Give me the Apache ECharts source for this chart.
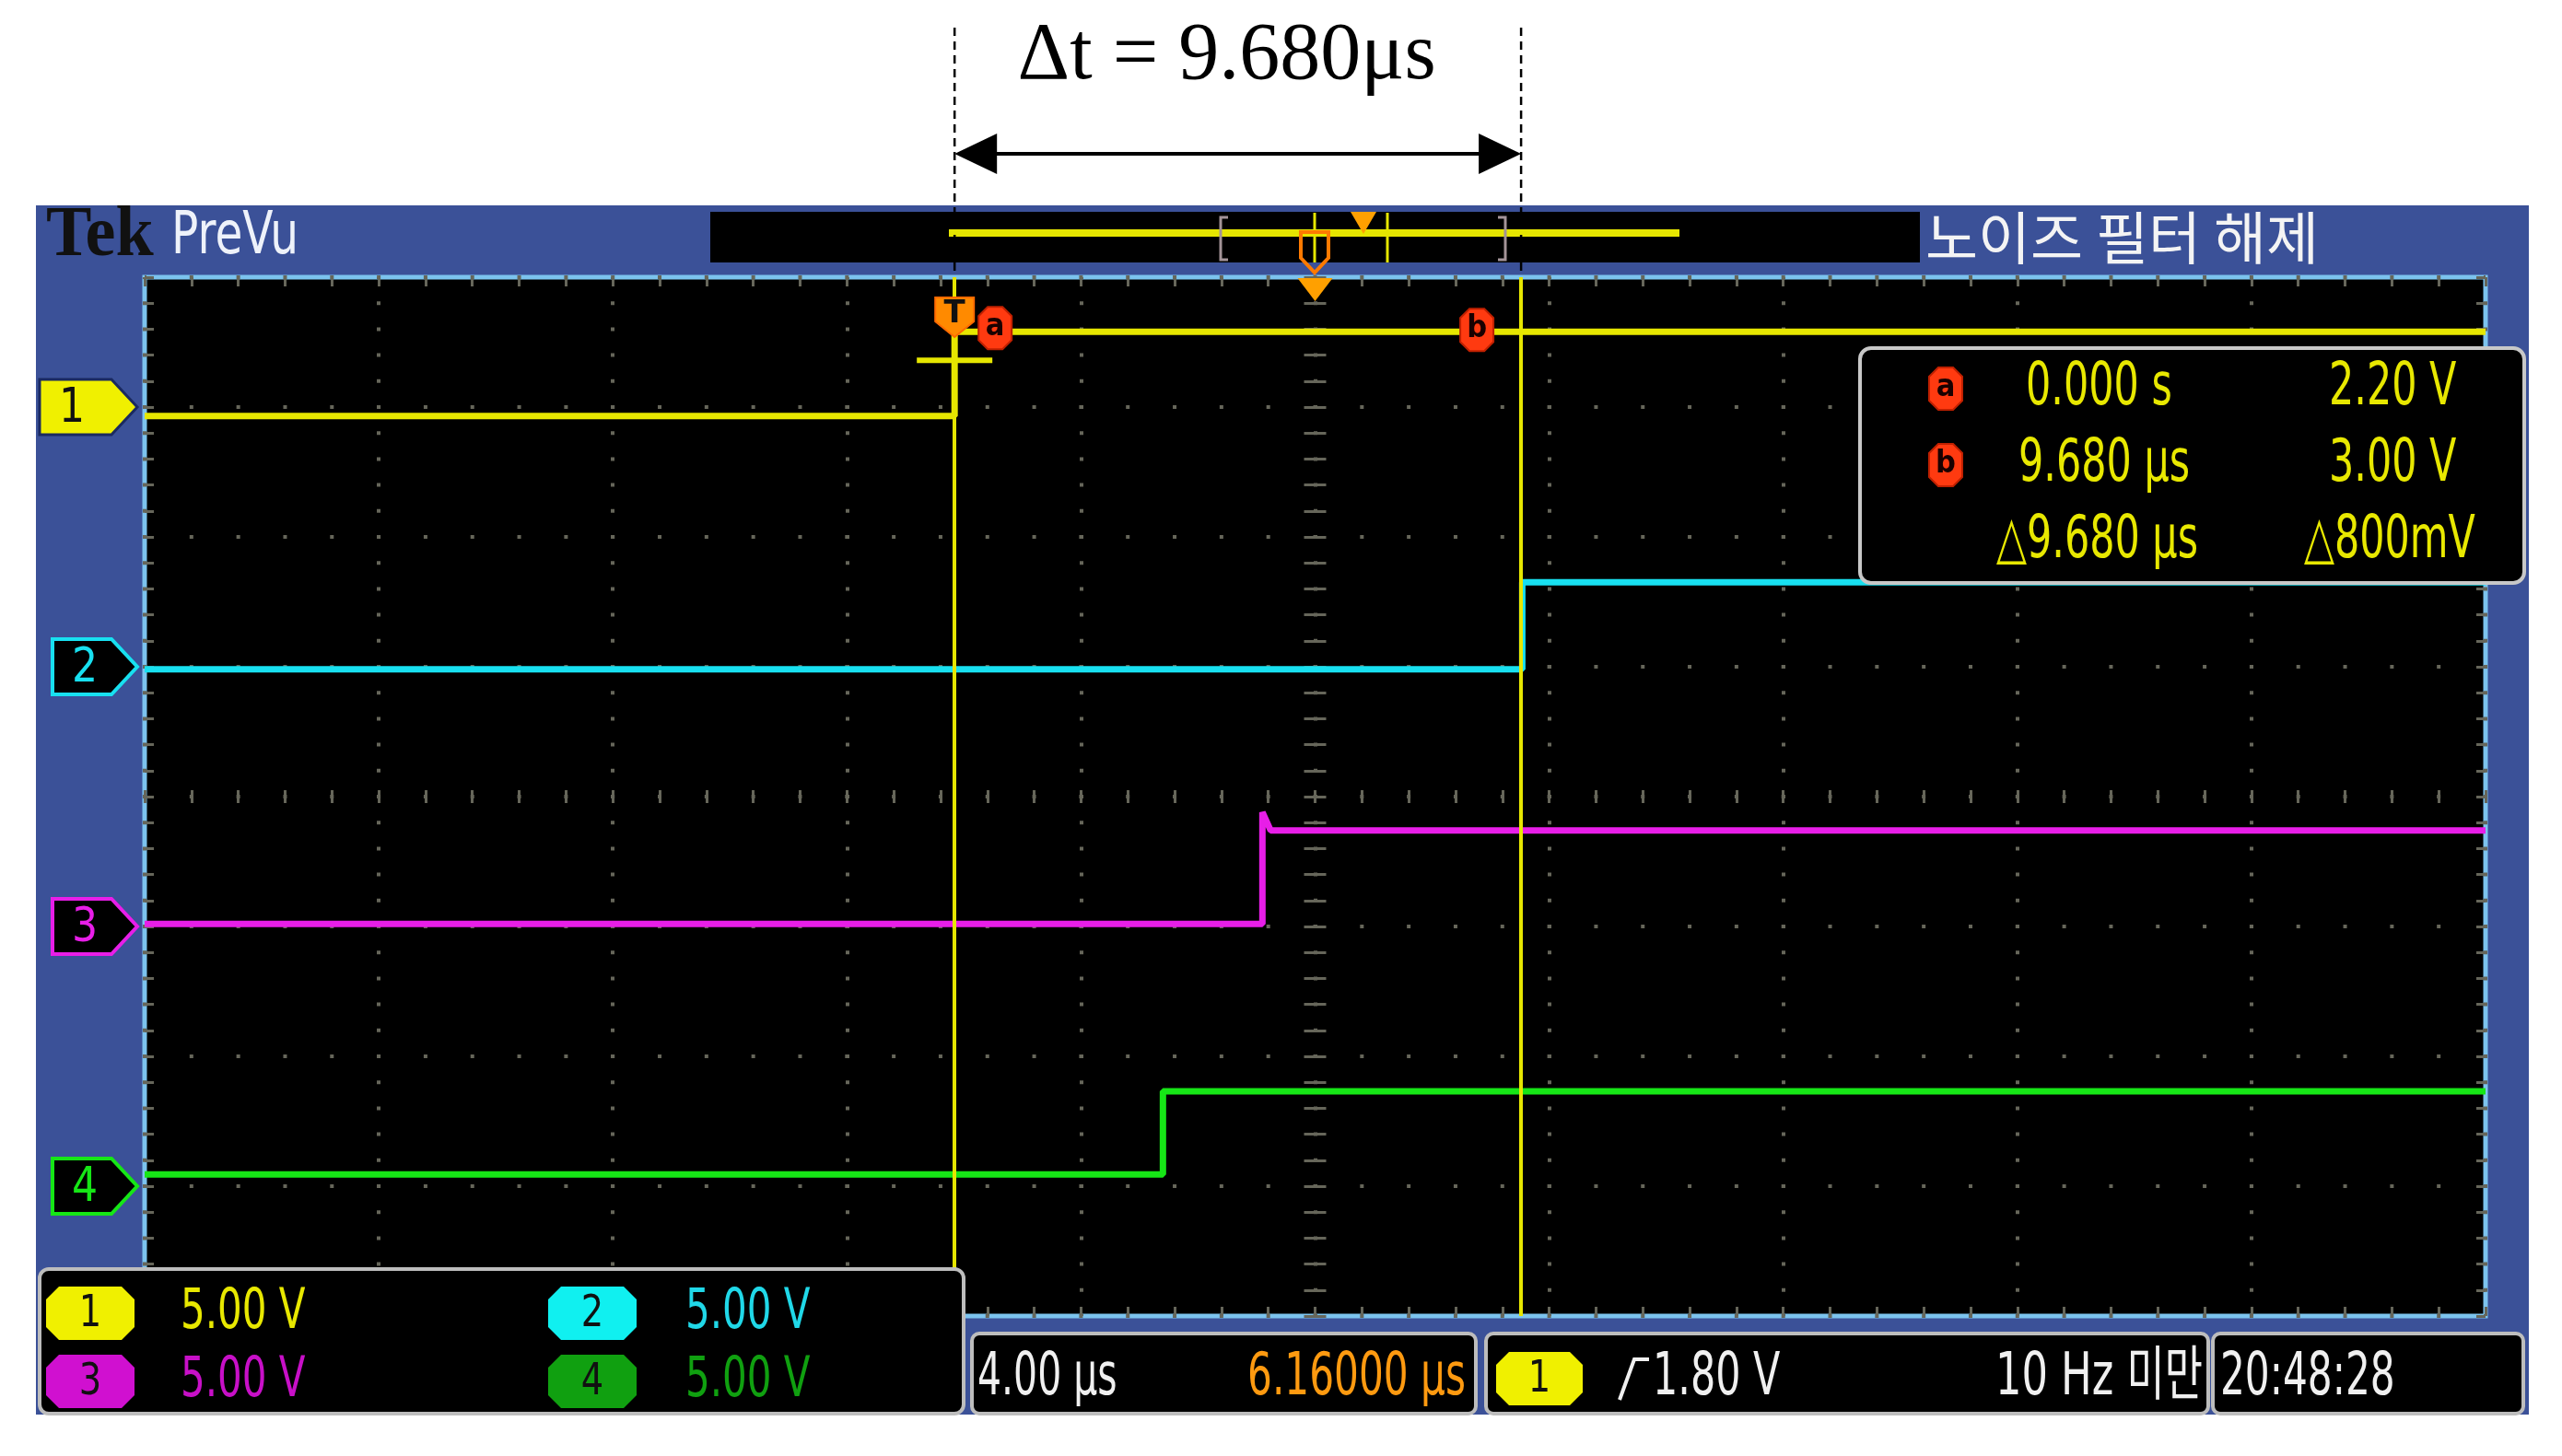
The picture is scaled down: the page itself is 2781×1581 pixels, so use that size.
<!DOCTYPE html>
<html><head><meta charset="utf-8">
<script src="https://cdn.jsdelivr.net/npm/echarts@6/dist/echarts.min.js"></script>
<style>html,body{margin:0;padding:0;background:#fff;}#c{width:2781px;height:1581px;}</style>
</head><body><div id="c"></div>
<script>
// ================= DATA =================
const timePerDiv = 4;            // μs / div
const horizDelay = 6.16;         // μs at screen centre
const voltsPerDiv = 5;           // V / div (all channels)
const channelOffsets = [3, 1, -1, -3];   // div, ground marker positions
const ch1Time  = [-13.84, 0.00, 0.00, 26.16];
const ch1Volts = [-0.35, -0.35, 2.90, 2.90];
const ch2Time  = [-13.84, 9.70, 9.70, 26.16];
const ch2Volts = [-0.10, -0.10, 3.25, 3.25];
const ch3Time  = [-13.84, 5.26, 5.26, 5.40, 26.16];
const ch3Volts = [0.10, 0.10, 4.40, 3.70, 3.70];
const ch4Time  = [-13.84, 3.56, 3.56, 26.16];
const ch4Volts = [0.45, 0.45, 3.65, 3.65];
const cursorTimes = [0.000, 9.680];       // μs
const triggerLevel = 1.80;                // V (CH1)
const channelLabels = ['1', '2', '3', '4'];
const channelColors = ['#e6e600', '#18e0f0', '#e81ee8', '#16e616'];
const scaleLabels = ['5.00 V', '5.00 V', '5.00 V', '5.00 V'];
const readoutRows = [['0.000 s', '2.20 V'], ['9.680 μs', '3.00 V'], ['△9.680 μs', '△800mV']];
const titleText = 'Δt = 9.680μs';
const timebaseText = '4.00 μs';
const delayText = '6.16000 μs';
const trigText = '1.80 V';
const trigFreqText = '10 Hz 미만';
const clockText = '20:48:28';
const noiseText = '노이즈 필터 해제';

// ================= CHART =================
const chart = echarts.init(document.getElementById('c'), null, {renderer: 'canvas'});
const G = {left: 157, top: 301, width: 2541, height: 1128};
const dotColor = '#66665a';
const pitchX = G.width / 10 / 5, pitchY = G.height / 8 / 5;

function divX(extra) {
  return Object.assign({type: 'value', min: -5, max: 5, interval: 1,
    axisLabel: {show: false}, splitLine: {show: false},
    axisLine: {show: false, onZero: false}}, extra);
}
function divY(extra) {
  return Object.assign({type: 'value', min: -4, max: 4, interval: 1,
    axisLabel: {show: false}, splitLine: {show: false},
    axisLine: {show: false, onZero: false}}, extra);
}
function ticks(len, inside) {
  return {
    axisTick: {show: true, inside: inside, length: len, lineStyle: {color: dotColor, width: 3}},
    minorTick: {show: true, splitNumber: 5, length: len, lineStyle: {color: dotColor, width: 3}}
  };
}

const tMin = horizDelay - 5 * timePerDiv, tMax = horizDelay + 5 * timePerDiv;
function toDiv(times, volts, ch) {
  return times.map((t, i) => [t, channelOffsets[ch] + volts[i] / voltsPerDiv]);
}
const chTimes = [ch1Time, ch2Time, ch3Time, ch4Time];
const chVolts = [ch1Volts, ch2Volts, ch3Volts, ch4Volts];

const series = chTimes.map((tt, i) => ({
  type: 'line', name: 'CH' + (i + 1), xAxisIndex: 4, yAxisIndex: 0,
  data: toDiv(tt, chVolts[i], i), showSymbol: false, symbol: 'none',
  lineStyle: {color: channelColors[i], width: 7}, z: 3,
  markLine: i === 0 ? {
    silent: true, symbol: ['none', 'none'], label: {show: false},
    lineStyle: {color: '#e6e600', width: 4, type: 'solid'},
    data: cursorTimes.map(t => ({xAxis: t}))
  } : undefined
}));

chart.setOption({
  animation: false,
  backgroundColor: '#ffffff',
  grid: {left: G.left, top: G.top, width: G.width, height: G.height, show: true,
    backgroundColor: '#000000', borderColor: '#7cc3ee', borderWidth: 5, outerBoundsMode: 'none'},
  xAxis: [
    divX(Object.assign({position: 'bottom',
      splitLine: {show: true, lineStyle: {color: dotColor, width: 4, type: [4, pitchY - 4], dashOffset: 2}}}, ticks(10, true))),
    divX(Object.assign({position: 'top'}, ticks(10, true))),
    divX(Object.assign({position: 'bottom', axisLine: {show: false, onZero: true, onZeroAxisIndex: 0}}, ticks(7, true))),
    divX(Object.assign({position: 'bottom', axisLine: {show: false, onZero: true, onZeroAxisIndex: 0}}, ticks(7, false))),
    {type: 'value', min: tMin, max: tMax, show: false}
  ],
  yAxis: [
    divY(Object.assign({position: 'left',
      splitLine: {show: true, lineStyle: {color: dotColor, width: 4, type: [4, pitchX - 4], dashOffset: 2}}}, ticks(10, true))),
    divY(Object.assign({position: 'right'}, ticks(10, true))),
    divY(Object.assign({position: 'left', axisLine: {show: false, onZero: true, onZeroAxisIndex: 0}}, ticks(12, true))),
    divY(Object.assign({position: 'left', axisLine: {show: false, onZero: true, onZeroAxisIndex: 0}}, ticks(12, false)))
  ],
  series: series
});

// ================= DECORATION =================
const px = t => chart.convertToPixel({xAxisIndex: 4}, t);
const py = d => chart.convertToPixel({yAxisIndex: 0}, d);
const xa = px(cursorTimes[0]), xb = px(cursorTimes[1]);
const xc = chart.convertToPixel({xAxisIndex: 0}, 0);
const FONT = '"DejaVu Sans", "Noto Sans CJK KR"';

const g = [];
function T(x, y, s, color, size, sx, align, extra) {
  const o = {type: 'text', x: x, y: y, scaleX: sx || 1, z: 40, silent: true,
    style: Object.assign({text: s, font: size + 'px ' + FONT, fill: color,
      align: align || 'left', verticalAlign: 'middle', textAlign: align || 'left', textVerticalAlign: 'middle'}, extra || {})};
  g.push(o); return o;
}
function R(x, y, w, h, fill, stroke, lw, r, z) {
  g.push({type: 'rect', z: z, silent: true, shape: {x: x, y: y, width: w, height: h, r: r || 0},
    style: {fill: fill, stroke: stroke || null, lineWidth: lw || 0}});
}
function P(points, fill, stroke, lw, z) {
  g.push({type: 'polygon', z: z, silent: true, shape: {points: points},
    style: {fill: fill, stroke: stroke || null, lineWidth: lw || 0}});
}
function L(x1, y1, x2, y2, color, lw, z, dash) {
  g.push({type: 'line', z: z, silent: true, shape: {x1: x1, y1: y1, x2: x2, y2: y2},
    style: {stroke: color, lineWidth: lw, lineDash: dash || null}});
}
function oct(cx, cy, w, h, c, fill, stroke, lw, z) {
  P([[cx - w / 2 + c, cy - h / 2], [cx + w / 2 - c, cy - h / 2], [cx + w / 2, cy - h / 2 + c], [cx + w / 2, cy + h / 2 - c],
     [cx + w / 2 - c, cy + h / 2], [cx - w / 2 + c, cy + h / 2], [cx - w / 2, cy + h / 2 - c], [cx - w / 2, cy - h / 2 + c]],
    fill, stroke, lw, z);
}

// instrument panel
R(39, 223, 2706, 1313, '#3b5198', null, 0, 0, -10);

// title + dimension arrow
T((xa + xb) / 2 - 12, 62, titleText, '#000', 88, 1, 'center', {font: '88px "Liberation Serif"'});
L(xa, 30, xa, 300, '#000', 2.5, 50, [9, 6]);
L(xb, 30, xb, 300, '#000', 2.5, 50, [9, 6]);
L(xa + 30, 167, xb - 30, 167, '#000', 4, 50);
P([[xa, 167], [xa + 46, 145], [xa + 46, 189]], '#000', null, 0, 50);
P([[xb, 167], [xb - 46, 145], [xb - 46, 189]], '#000', null, 0, 50);

// top bar
T(50, 257, 'Tek', '#111', 78, 0.95, 'left', {font: 'bold 78px "Liberation Serif"'});
T(186, 258, 'PreVu', '#eef2fa', 64, 0.76);
R(771, 230, 1313, 55, '#000', null, 0, 0, 5);
L(1030, 253, 1823, 253, '#e6e600', 8, 6);
g.push({type: 'polyline', z: 7, silent: true, shape: {points: [[1333, 236], [1325, 236], [1325, 282], [1333, 282]]}, style: {stroke: '#a49498', lineWidth: 3, fill: null}});
g.push({type: 'polyline', z: 7, silent: true, shape: {points: [[1626, 236], [1634, 236], [1634, 282], [1626, 282]]}, style: {stroke: '#a49498', lineWidth: 3, fill: null}});
L(1427, 231, 1427, 285, '#e6e600', 3, 7);
L(1506, 231, 1506, 285, '#e6e600', 3, 7);
P([[1466, 230], [1494, 230], [1480, 254]], '#ffa000', null, 0, 8);
P([[1412, 252], [1442, 252], [1442, 280], [1427, 296], [1412, 280]], null, '#ff7a00', 4, 8);
P([[xc - 19, 302], [xc + 19, 302], [xc, 327]], '#ffa000', null, 0, 30);
T(2090, 258, noiseText, '#f4f4f4', 62, 1.0, 'left', {font: '62px "Noto Sans CJK KR"'});

// channel ground markers
channelLabels.forEach((lab, i) => {
  const cy = py(channelOffsets[i]);
  const left = i === 0 ? 43 : 57;
  const pts = [[left, cy - 30], [121, cy - 30], [149, cy], [121, cy + 30], [left, cy + 30]];
  if (i === 0) P(pts, '#f0f000', '#1a2a60', 3, 20);
  else P(pts, '#000', channelColors[i], 4, 20);
  T(i === 0 ? 78 : 92, cy + 2, lab, i === 0 ? '#111' : channelColors[i], 52, 0.85, 'center');
});

// trigger marker, trigger level, cursor badges
const yHigh1 = py(channelOffsets[0] + ch1Volts[2] / voltsPerDiv);
P([[xa - 21, G.top + 22], [xa + 21, G.top + 22], [xa + 21, G.top + 48], [xa, G.top + 65], [xa - 21, G.top + 48]], '#ff8a00', '#ff6a00', 2, 30);
T(xa, G.top + 40, 'T', '#111', 34, 1, 'center', {font: 'bold 34px ' + FONT});
L(xa - 41, py(channelOffsets[0] + triggerLevel / voltsPerDiv), xa + 41, py(channelOffsets[0] + triggerLevel / voltsPerDiv), '#e6e600', 6, 30);
function badge(cx, cy, s, z) {
  oct(cx, cy, 36, 46, 10, '#ff3a10', '#c02000', 2, z);
  T(cx, cy - 1, s, '#1a0000', 34, 0.9, 'center', {font: 'bold 34px ' + FONT});
}
badge(xa + 44, yHigh1 - 4, 'a', 30);
badge(xb - 48, yHigh1 - 2, 'b', 30);

// cursor readout box
R(2019, 378, 721, 255, '#000', '#c8c8c8', 4, 12, 35);
const rowY = [422, 505, 588];
badge(2112, rowY[0], 'a', 38);
badge(2112, rowY[1], 'b', 38);
readoutRows.forEach((row, i) => {
  T(i === 2 ? 2167 : (i === 1 ? 2191 : 2199), rowY[i], row[0], '#e8e800', 64, 0.67);
  T(i === 2 ? 2501 : 2528, rowY[i], row[1], '#e8e800', 64, 0.67);
});

// vertical scale box
R(43, 1378, 1003, 157, '#000', '#bdbdbd', 4, 10, 35);
const badgeCols = ['#f0f000', '#10f0f0', '#d010d0', '#10a010'];
const textCols = ['#e8e800', '#20d8e8', '#c810c8', '#10a010'];
const bx = [98, 643, 98, 643], by = [1426, 1426, 1500, 1500], tx = [196, 744, 196, 744];
scaleLabels.forEach((s, i) => {
  oct(bx[i], by[i], 96, 58, 14, badgeCols[i], null, 0, 38);
  T(bx[i], by[i] + 2, channelLabels[i], '#111', 48, 0.8, 'center');
  T(tx[i], by[i], s, textCols[i], 60, 0.7);
});

// timebase / trigger / clock boxes
R(1055, 1448, 547, 87, '#000', '#bdbdbd', 4, 8, 35);
R(1613, 1448, 784, 87, '#000', '#bdbdbd', 4, 8, 35);
R(2402, 1448, 337, 87, '#000', '#bdbdbd', 4, 8, 35);
T(1061, 1497, timebaseText, '#f0f0f0', 64, 0.64);
T(1591, 1497, delayText, '#ff9a10', 64, 0.66, 'right');
oct(1671, 1497, 94, 58, 14, '#f0f000', null, 0, 38);
T(1671, 1499, channelLabels[0], '#111', 48, 0.8, 'center');
g.push({type: 'polyline', z: 40, silent: true, shape: {points: [[1758, 1520], [1774, 1476], [1790, 1476]]}, style: {stroke: '#f0f0f0', lineWidth: 4, fill: null}});
T(1794, 1497, trigText, '#f0f0f0', 64, 0.67);
T(2391, 1497, trigFreqText, '#f0f0f0', 64, 0.7, 'right');
T(2410, 1497, clockText, '#f0f0f0', 64, 0.66);

chart.setOption({graphic: {elements: g}});
</script>
</body></html>
